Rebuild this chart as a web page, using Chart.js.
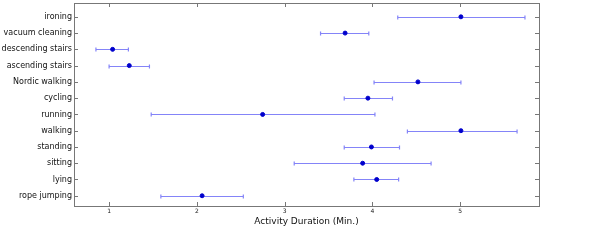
<!DOCTYPE html>
<html>
<head>
<meta charset="utf-8">
<script src="https://cdn.jsdelivr.net/npm/chart.js@4/dist/chart.umd.min.js"></script>
<style>
  html, body { margin: 0; padding: 0; background: #fff; }
  #wrap { width: 598px; height: 240px; }
</style>
</head>
<body>
<div id="wrap"><canvas id="durationChart"></canvas></div>
<script>
// Activities, top to bottom
const activities = ['ironing', 'vacuum cleaning', 'descending stairs', 'ascending stairs',
  'Nordic walking', 'cycling', 'running', 'walking', 'standing', 'sitting', 'lying', 'rope jumping'];
const meanDuration = [5.01, 3.69, 1.04, 1.23, 4.52, 3.95, 2.75, 5.01, 3.99, 3.89, 4.05, 2.06];
const lowDuration  = [4.29, 3.41, 0.85, 1.00, 4.02, 3.68, 1.48, 4.40, 3.68, 3.11, 3.79, 1.59];
const highDuration = [5.74, 3.96, 1.22, 1.46, 5.01, 4.23, 4.03, 5.65, 4.31, 4.67, 4.30, 2.53];
const xTicks = [1, 2, 3, 4, 5];

const barColor = 'rgba(80, 80, 245, 0.7)';
const frameColor = '#777';

// horizontal error bars with end caps
const errorBars = {
  id: 'errorBars',
  beforeDatasetsDraw(chart) {
    const { ctx, scales: { x, y } } = chart;
    ctx.save();
    ctx.strokeStyle = barColor;
    ctx.lineWidth = 1.2;
    activities.forEach((_, i) => {
      const py = Math.round(y.getPixelForValue(i)) + 0.5;
      const x0 = x.getPixelForValue(lowDuration[i]);
      const x1 = x.getPixelForValue(highDuration[i]);
      ctx.beginPath();
      ctx.moveTo(x0, py); ctx.lineTo(x1, py);
      ctx.moveTo(x0, py - 2); ctx.lineTo(x0, py + 2);
      ctx.moveTo(x1, py - 2); ctx.lineTo(x1, py + 2);
      ctx.stroke();
    });
    ctx.restore();
  }
};

// matplotlib style frame with inward ticks on all sides
const frame = {
  id: 'frame',
  afterDraw(chart) {
    const { ctx, chartArea: a, scales: { x, y } } = chart;
    ctx.save();
    ctx.strokeStyle = frameColor;
    ctx.lineWidth = 1;
    ctx.strokeRect(Math.round(a.left) + 0.5, Math.round(a.top) + 0.5,
      Math.round(a.right - a.left), Math.round(a.bottom - a.top));
    ctx.beginPath();
    xTicks.forEach(v => {
      const px = Math.round(x.getPixelForValue(v)) + 0.5;
      ctx.moveTo(px, a.bottom); ctx.lineTo(px, a.bottom - 4);
      ctx.moveTo(px, a.top); ctx.lineTo(px, a.top + 4);
    });
    activities.forEach((_, i) => {
      const py = Math.round(y.getPixelForValue(i)) + 0.5;
      ctx.moveTo(a.left, py); ctx.lineTo(a.left + 4, py);
      ctx.moveTo(a.right, py); ctx.lineTo(a.right - 4, py);
    });
    ctx.stroke();
    ctx.restore();
  }
};

new Chart(document.getElementById('durationChart'), {
  type: 'scatter',
  data: {
    datasets: [{
      data: meanDuration.map((v, i) => ({ x: v, y: i })),
      backgroundColor: '#0000cc',
      borderColor: '#0000cc',
      pointRadius: 2,
      pointHoverRadius: 2
    }]
  },
  plugins: [errorBars, frame],
  options: {
    responsive: true,
    maintainAspectRatio: false,
    animation: false,
    layout: { padding: { top: 0, right: 59, left: 0, bottom: 0 } },
    plugins: { legend: { display: false }, tooltip: { enabled: false } },
    scales: {
      x: {
        type: 'linear',
        min: 0.6,
        max: 5.9,
        afterBuildTicks: s => { s.ticks = xTicks.map(v => ({ value: v })); },
        afterFit: s => { s.height = 34; s.paddingLeft = 0; s.paddingRight = 0; },
        grid: { display: false, drawTicks: false, tickLength: 0 },
        border: { display: false },
        ticks: { color: '#222', font: { family: 'DejaVu Sans', size: 6 }, padding: 2, maxRotation: 0 },
        title: {
          display: true,
          text: 'Activity Duration (Min.)',
          color: '#111',
          font: { family: 'DejaVu Sans', size: 9 },
          padding: { top: 0, bottom: 13 }
        }
      },
      y: {
        type: 'linear',
        reverse: true,
        min: -0.85,
        max: 11.63,
        afterBuildTicks: s => { s.ticks = activities.map((_, i) => ({ value: i })); },
        afterFit: s => { s.width = 74; s.paddingTop = 1; s.paddingBottom = 0; },
        grid: { display: false, drawTicks: false, tickLength: 0 },
        border: { display: false },
        ticks: {
          color: '#111',
          font: { family: 'DejaVu Sans', size: 8 },
          padding: 2,
          autoSkip: false,
          callback: v => activities[v]
        }
      }
    }
  }
});
</script>
</body>
</html>
